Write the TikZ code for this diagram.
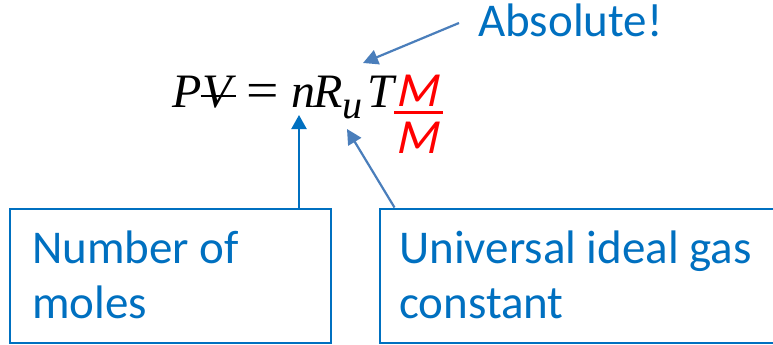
\documentclass[tikz,border=0pt]{standalone}
\usepackage{graphicx}
\usepackage{fontspec}
\setmainfont{Carlito}
\newfontfamily\tnr{Liberation Serif}
\newfontfamily\carslant{Carlito}[FakeSlant=0.22]
\usetikzlibrary{arrows.meta}
\definecolor{boxblue}{HTML}{0070C0}
\definecolor{arrblue}{HTML}{4A7EBB}
\definecolor{eqred}{HTML}{FF0000}
\tikzset{
  boxrect/.style={draw=boxblue, line width=2pt, inner sep=0pt},
  boxtext/.style={text=boxblue, font=\fontsize{47}{55}\selectfont, anchor=base west, inner sep=0pt, align=left},
  eqsym/.style={font=\tnr\itshape\fontsize{48}{48}\selectfont, anchor=base west, inner sep=0pt},
  equp/.style={font=\tnr\fontsize{48}{48}\selectfont, anchor=base west, inner sep=0pt},
  redm/.style={text=eqred, font=\carslant\fontsize{49}{49}\selectfont, anchor=base west, inner sep=0pt},
  darkarrow/.style={draw=boxblue, line width=2.2pt, -{Triangle[length=14pt,width=15pt]}},
  lightarrow/.style={draw=arrblue, line width=2.2pt, -{Triangle[length=15pt,width=15pt]}}
}
\begin{document}
\begin{tikzpicture}[x=1pt,y=-1pt]
\clip (0,0) rectangle (773,345);
\fill[white] (0,0) rectangle (773,345);
% equation
\node[eqsym] (P) at (172,107) {P};
\node[eqsym] (V) at (202,107) {V};
\draw[line width=2pt] (200.5,96) -- (236,96);
\node[equp] (eq) at (246,107) {\scalebox{1.2}[1.05]{=}};
\node[eqsym] (n) at (291,107) {n};
\node[eqsym] (R) at (313,107) {R};
\node[eqsym, font=\tnr\itshape\fontsize{40}{40}\selectfont] (u) at (342,118) {u};
\node[eqsym] (T) at (367,107) {T};
\node[redm] (M1) at (395,106) {M};
\draw[eqred, line width=2.4pt] (394,112.5) -- (443,112.5);
\node[redm] (M2) at (395,153) {M};
% label
\node[boxtext] (abs) at (478,37) {Absolute!};
% boxes
\node[boxrect, minimum width=321pt, minimum height=134.5pt] (box1) at (170.5,275.75) {};
\node[boxrect, minimum width=420pt, minimum height=134.5pt] (box2) at (589.5,275.75) {};
\node[boxtext] (t1) at (32,318) {Number of\\moles};
\node[boxtext] (t2) at (399,318) {Universal ideal gas\\constant};
% connectors
\coordinate (tipn) at (299,115);
\coordinate (tipu) at (347,129);
\coordinate (tipt) at (363,63);
\coordinate (absstart) at (459,23);
\draw[darkarrow] (box1.north -| tipn) -- (tipn);
\draw[lightarrow] ([xshift=16pt]box2.north west) -- (tipu);
\draw[lightarrow] (absstart) -- (tipt);
\end{tikzpicture}
\end{document}
